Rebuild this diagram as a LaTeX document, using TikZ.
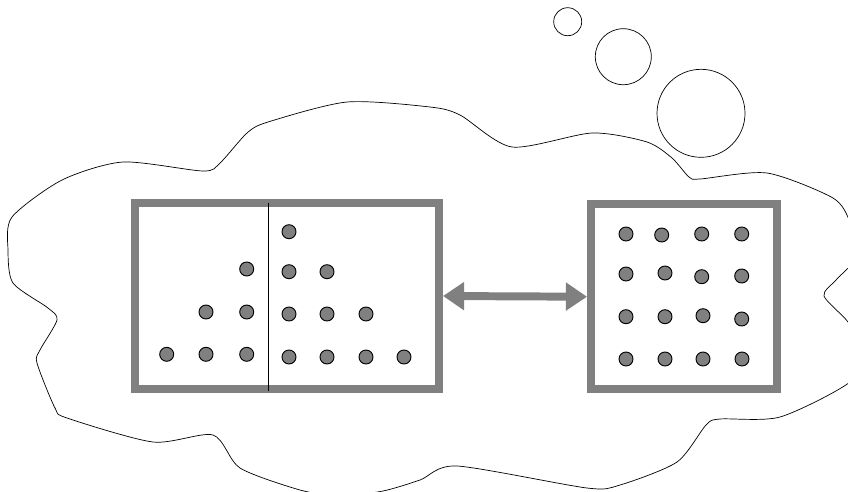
\documentclass[tikz,border=0pt]{standalone}
\usetikzlibrary{arrows.meta, shapes.geometric}
\definecolor{grisCaja}{RGB}{128,128,128}
\tikzset{
  th/box/.style={rectangle, draw=grisCaja, line width=6.8pt, inner sep=0pt},
  th/dot/.style={circle, draw=black, fill=grisCaja, line width=0.8pt,
    minimum size=0.42cm, inner sep=0pt},
  th/bubble/.style={circle, draw=black, line width=0.6pt, inner sep=0pt},
  th/arr/.style={{Triangle[length=18pt,width=23pt]}-{Triangle[length=18pt,width=23pt]},
    line width=6.8pt, draw=grisCaja},
  th/divider/.style={draw=black, line width=0.8pt},
  th/cloud/.style={draw=black, line width=0.6pt}
}
\begin{document}
\begin{tikzpicture}[x=0.03cm, y=-0.03cm]
  \useasboundingbox (0,0) rectangle (848,491);
  \clip (0,0) rectangle (848,491);

  % Nube de pensamiento
  \draw[th/cloud] plot[smooth cycle, tension=0.45] coordinates {
    (12,217) (62,180) (123,162) (203,171) (220,163) (247,133) (268,122)
    (347,102) (430,107) (460,115) (512,147) (592,133) (647,142) (672,158)
    (689,177) (700,179) (767,173) (833,198) (850,222) (858,255) (836,280)
    (824,296) (848,322) (862,350) (850,382) (780,417) (720,419) (706,425)
    (677,462) (620,485) (587,488) (457,466) (420,480) (383,491) (340,496)
    (300,490) (240,468) (213,435) (153,442) (67,418) (55,408) (37,363)
    (40,350) (57,320) (48,308) (13,283) (8,250)};

  % Burbujas
  \node[th/bubble, minimum size=0.84cm] (b1) at (567.7,21.7) {};
  \node[th/bubble, minimum size=1.68cm] (b2) at (623.3,56.7) {};
  \node[th/bubble, minimum size=2.64cm] (b3) at (701,113.3) {};

  % Cajas
  \node[th/box, minimum width=9.12cm, minimum height=5.58cm] (izq) at (287,296) {};
  \node[th/box, minimum width=5.58cm, minimum height=5.54cm] (der) at (684,296.7) {};

  % Divisor de la caja izquierda
  \coordinate (divtop) at (268,203);
  \coordinate (divbot) at (268,391);
  \draw[th/divider] (divtop) -- (divbot);

  % Puntos: caja izquierda
  \foreach \px/\py [count=\i] in {289/231.7,
      246.7/269, 289/271.7, 327/271.7,
      206/312, 246.7/312, 289/314, 327/314, 366/314,
      166.7/354.3, 206/354.3, 246.7/354.3, 289/357, 327/357, 366/357, 404/357}
    \node[th/dot] (pi\i) at (\px,\py) {};

  % Puntos: caja derecha
  \foreach \px/\py [count=\i] in {626/234, 661.7/235, 701.7/234, 741.7/234,
      626/274, 665/273, 701.7/276.7, 741.7/276,
      626/316.7, 665/316.7, 703/315.7, 741.7/319,
      626/359, 665/359, 703/359, 742/359}
    \node[th/dot] (pd\i) at (\px,\py) {};

  % Flecha entre cajas
  \draw[th/arr] (izq.east) -- (der.west);
\end{tikzpicture}
\end{document}
